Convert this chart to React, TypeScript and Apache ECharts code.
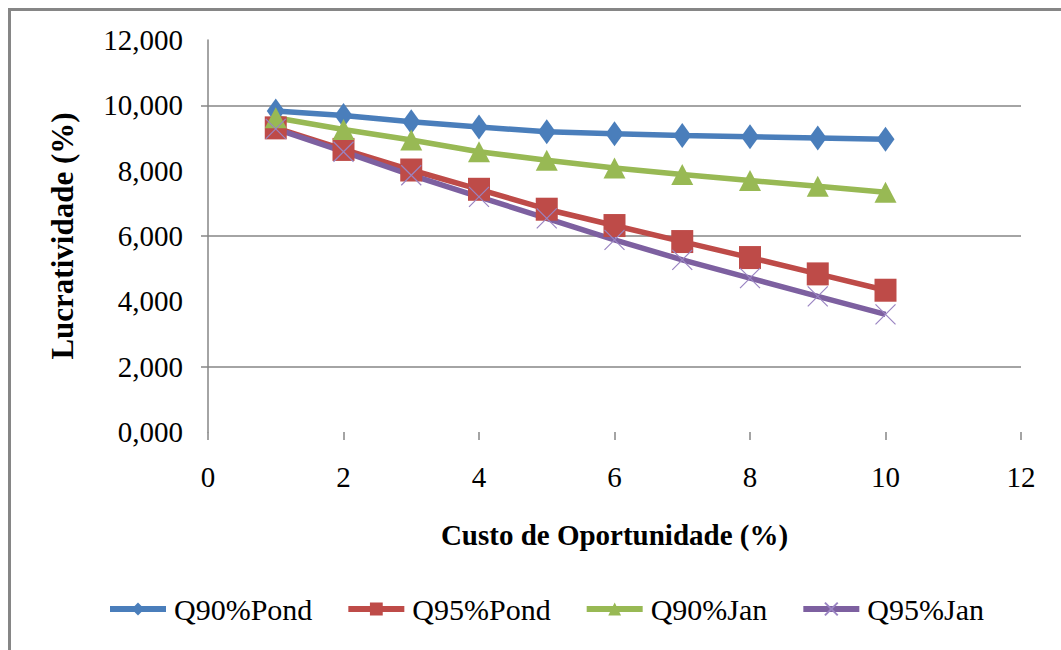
import React, { useEffect, useRef } from "react";
import * as echarts from "echarts";

const xValues = [1, 2, 3, 4, 5, 6, 7, 8, 9, 10];
const q90Pond = [9.83, 9.69, 9.5, 9.34, 9.19, 9.13, 9.08, 9.04, 9.0, 8.96];
const q95Pond = [9.31, 8.65, 8.02, 7.43, 6.82, 6.32, 5.83, 5.34, 4.84, 4.34];
const q90Jan = [9.62, 9.26, 8.94, 8.58, 8.32, 8.08, 7.88, 7.7, 7.52, 7.34];
const q95Jan = [9.28, 8.58, 7.86, 7.2, 6.54, 5.88, 5.27, 4.71, 4.15, 3.6];
const seriesNames = ["Q90%Pond", "Q95%Pond", "Q90%Jan", "Q95%Jan"];
const gridValues = [2, 6, 10];
const yLabelValues = [0, 2, 4, 6, 8, 10, 12];

const FONT = "'Liberation Serif', 'Times New Roman', serif";

export default function App() {
  const ref = useRef<HTMLDivElement>(null);
  useEffect(() => {
    if (!ref.current) return;
    const chart = echarts.init(ref.current, null, { renderer: "svg" });
    const pairs = (arr: number[]) => xValues.map((x, i) => [x, arr[i]]);
    const lineW = 5.5;
    chart.setOption({
      animation: false,
      backgroundColor: "#ffffff",
      textStyle: { fontFamily: FONT },
      graphic: [
        {
          type: "rect",
          shape: { x: 9.5, y: 9.5, width: 1100, height: 700 },
          style: { fill: "none", stroke: "#868686", lineWidth: 3 },
          silent: true,
        },
      ],
      grid: { left: 208, right: 40, top: 40, bottom: 218, containLabel: false },
      legend: {
        left: 102,
        top: 589,
        itemGap: 33,
        itemWidth: 56,
        itemHeight: 16,
        data: seriesNames,
        lineStyle: { width: 6 },
        textStyle: { fontFamily: FONT, fontSize: 30, color: "#000", padding: [0, 0, 0, 3] },
      },
      xAxis: {
        type: "value",
        min: 0,
        max: 12,
        interval: 2,
        name: "Custo de Oportunidade (%)",
        nameLocation: "middle",
        nameGap: 88,
        nameTextStyle: { fontFamily: FONT, fontSize: 29, fontWeight: "bold", color: "#000" },
        axisLine: { show: false },
        axisTick: { show: true, length: 8, inside: false, lineStyle: { color: "#868686", width: 1.5 } },
        axisLabel: { fontFamily: FONT, fontSize: 29, color: "#000", margin: 30 },
        splitLine: { show: false },
      },
      yAxis: {
        type: "value",
        min: 0,
        max: 12,
        interval: 2,
        name: "Lucratividade (%)",
        nameLocation: "middle",
        nameRotate: 90,
        nameGap: 130,
        nameTextStyle: { fontFamily: FONT, fontSize: 31, fontWeight: "bold", color: "#000" },
        axisLine: { show: true, lineStyle: { color: "#868686", width: 1.5 } },
        axisTick: { show: true, length: 7, customValues: gridValues, lineStyle: { color: "#868686", width: 1.5 } },
        axisLabel: {
          fontFamily: FONT,
          fontSize: 29,
          color: "#000",
          margin: 25,
          customValues: yLabelValues,
          formatter: (v: number) => v.toFixed(3).replace(".", ","),
        },
        splitLine: { show: true, lineStyle: { color: "#868686", width: 1.5 } },
      },
      series: [
        {
          name: seriesNames[0],
          type: "line",
          data: pairs(q90Pond),
          color: "#4A7EBB",
          symbol: "diamond",
          symbolSize: [18, 25],
          lineStyle: { width: lineW, color: "#4A7EBB" },
          itemStyle: { color: "#4A7EBB" },
        },
        {
          name: seriesNames[1],
          type: "line",
          data: pairs(q95Pond),
          color: "#BE4B48",
          symbol: "rect",
          symbolSize: [22, 23],
          lineStyle: { width: lineW, color: "#BE4B48" },
          itemStyle: { color: "#BE4B48" },
        },
        {
          name: seriesNames[2],
          type: "line",
          data: pairs(q90Jan),
          color: "#98B954",
          symbol: "triangle",
          symbolSize: [22, 21],
          lineStyle: { width: lineW, color: "#98B954" },
          itemStyle: { color: "#98B954" },
        },
        {
          name: seriesNames[3],
          type: "line",
          data: pairs(q95Jan),
          color: "#7D60A0",
          symbol: "path://M0,0L20,20M20,0L0,20",
          symbolSize: [20, 20],
          lineStyle: { width: lineW, color: "#7D60A0" },
          itemStyle: { color: "none", borderColor: "#9A84C2", borderWidth: 1.2 },
        },
      ],
    });
    return () => chart.dispose();
  }, []);
  return (
    <div
      ref={ref}
      style={{ position: "fixed", left: 0, top: 0, width: 1061, height: 650 }}
    />
  );
}
